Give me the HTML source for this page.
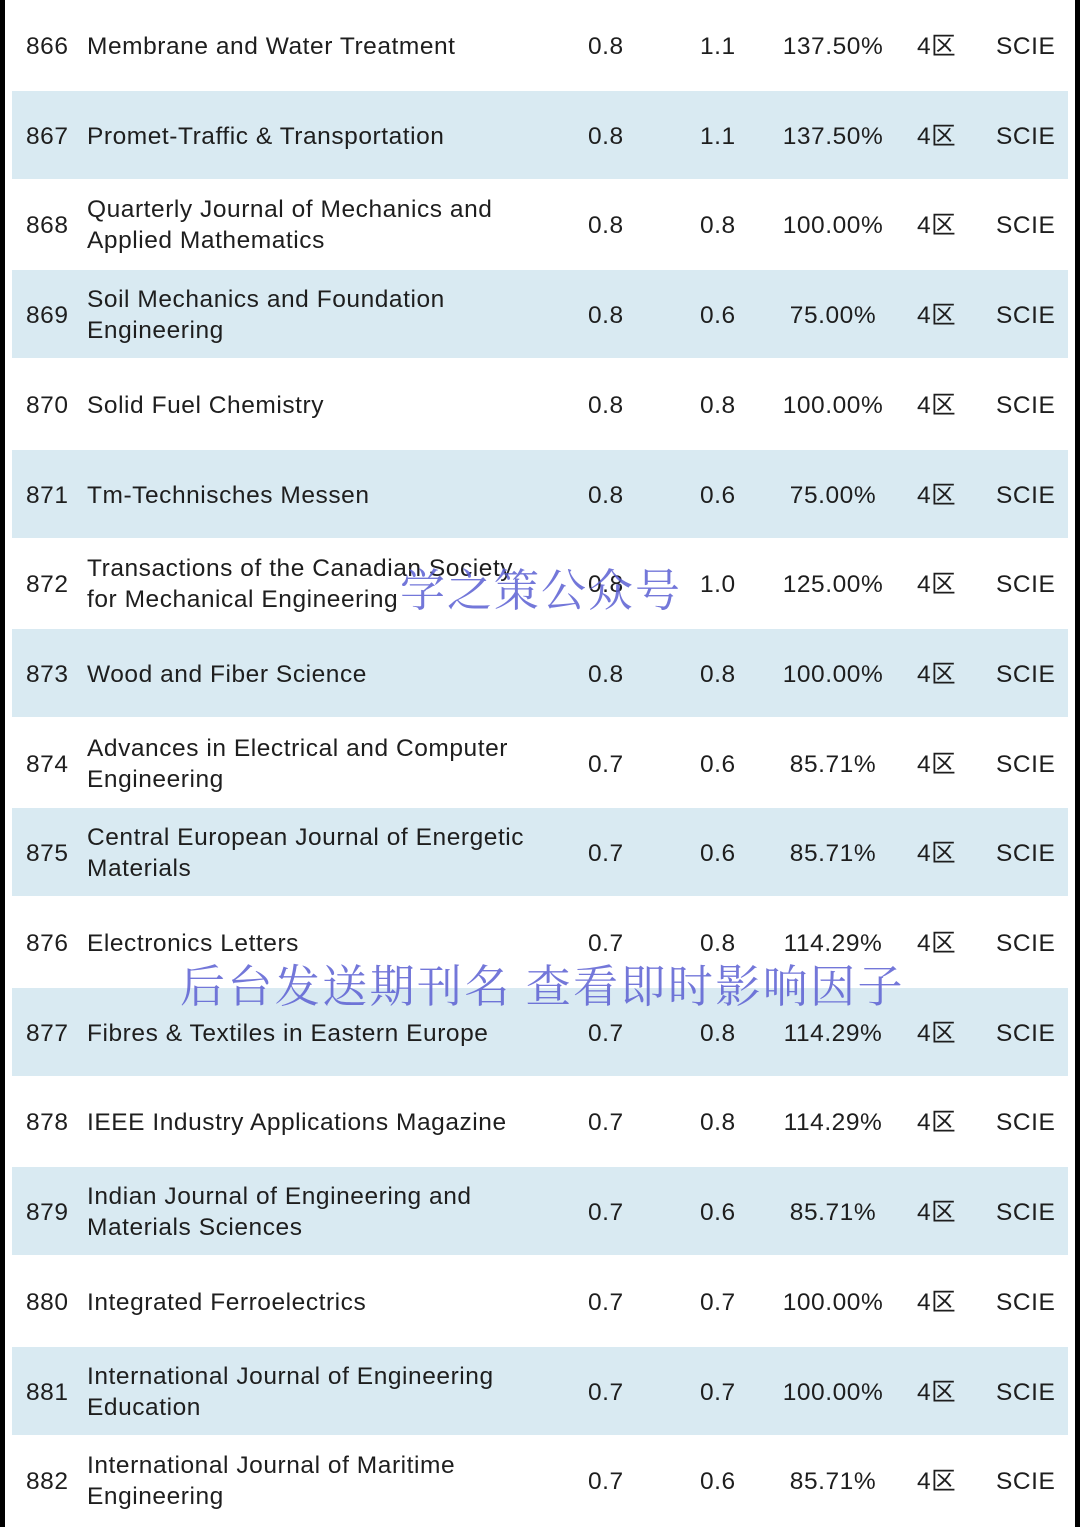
<!DOCTYPE html>
<html><head><meta charset="utf-8">
<style>
html,body{margin:0;padding:0;}
body{width:1080px;height:1527px;position:relative;background:#fff;overflow:hidden;font-family:"Liberation Sans","Noto Sans CJK SC",sans-serif;color:#1e1e1e;}
.bl{position:absolute;left:0;top:0;width:5px;height:1527px;background:#000;}
.br{position:absolute;right:0;top:0;width:5px;height:1527px;background:#000;}
.band{position:absolute;left:12px;width:1056px;height:88px;background:#d9eaf2;}
.c{position:absolute;font-size:24.5px;line-height:31px;white-space:nowrap;letter-spacing:0.55px;}
.wm{position:absolute;font-family:"Noto Serif CJK SC","WenQuanYi Zen Hei",serif;font-size:45px;color:rgba(90,95,210,0.85);white-space:nowrap;line-height:50px;}
</style></head>
<body>
<div class="bl"></div>
<div class="br"></div>
<div id="tbl"></div>
<div class="wm" style="left:400px;top:562px;letter-spacing:2px;">学之策公众号</div>
<div class="wm" style="left:180px;top:958px;letter-spacing:2.4px;">后台发送期刊名 查看即时影响因子</div>
<script>
const ids=[866,867,868,869,870,871,872,873,874,875,876,877,878,879,880,881,882];
const names=[["Membrane and Water Treatment"],["Promet-Traffic & Transportation"],["Quarterly Journal of Mechanics and","Applied Mathematics"],["Soil Mechanics and Foundation","Engineering"],["Solid Fuel Chemistry"],["Tm-Technisches Messen"],["Transactions of the Canadian Society","for Mechanical Engineering"],["Wood and Fiber Science"],["Advances in Electrical and Computer","Engineering"],["Central European Journal of Energetic","Materials"],["Electronics Letters"],["Fibres & Textiles in Eastern Europe"],["IEEE Industry Applications Magazine"],["Indian Journal of Engineering and","Materials Sciences"],["Integrated Ferroelectrics"],["International Journal of Engineering","Education"],["International Journal of Maritime","Engineering"]];
const if1=["0.8","0.8","0.8","0.8","0.8","0.8","0.8","0.8","0.7","0.7","0.7","0.7","0.7","0.7","0.7","0.7","0.7"];
const if2=["1.1","1.1","0.8","0.6","0.8","0.6","1.0","0.8","0.6","0.6","0.8","0.8","0.8","0.6","0.7","0.7","0.6"];
const pct=["137.50%","137.50%","100.00%","75.00%","100.00%","75.00%","125.00%","100.00%","85.71%","85.71%","114.29%","114.29%","114.29%","85.71%","100.00%","100.00%","85.71%"];
const zone="4区", idx="SCIE";
const tbl=document.getElementById('tbl');
function cell(txt,x,y,name,align){
  const d=document.createElement('div');
  d.className='c';
  d.innerHTML=txt;
  if(align==='c'){d.style.left=(x-80)+'px';d.style.width='160px';d.style.textAlign='center';}
  else d.style.left=x+'px';
  d.style.top=y+'px';
  
  
  tbl.appendChild(d);
}
ids.forEach((id,i)=>{
  const cy=45+i*89.7;
  if(i%2===1){
    const b=document.createElement('div');
    b.className='band';
    b.style.top=(cy-44)+'px';
    
    
    tbl.appendChild(b);
  }
  const y1=cy-14;
  cell(id,26,y1,'rank');
  const n=names[i];
  if(n.length===1) cell(n[0].replace('&','&amp;'),87,y1,'journal-name');
  else cell(n[0]+'<br>'+n[1],87,cy-30,'journal-name');
  cell(if1[i],588,y1,'impact-factor-old');
  cell(if2[i],700,y1,'impact-factor-new');
  cell(pct[i],833,y1,'growth-percent','c');
  cell(zone,917,y1,'zone');
  cell(idx,996,y1,'index');
});
</script>
</body></html>
